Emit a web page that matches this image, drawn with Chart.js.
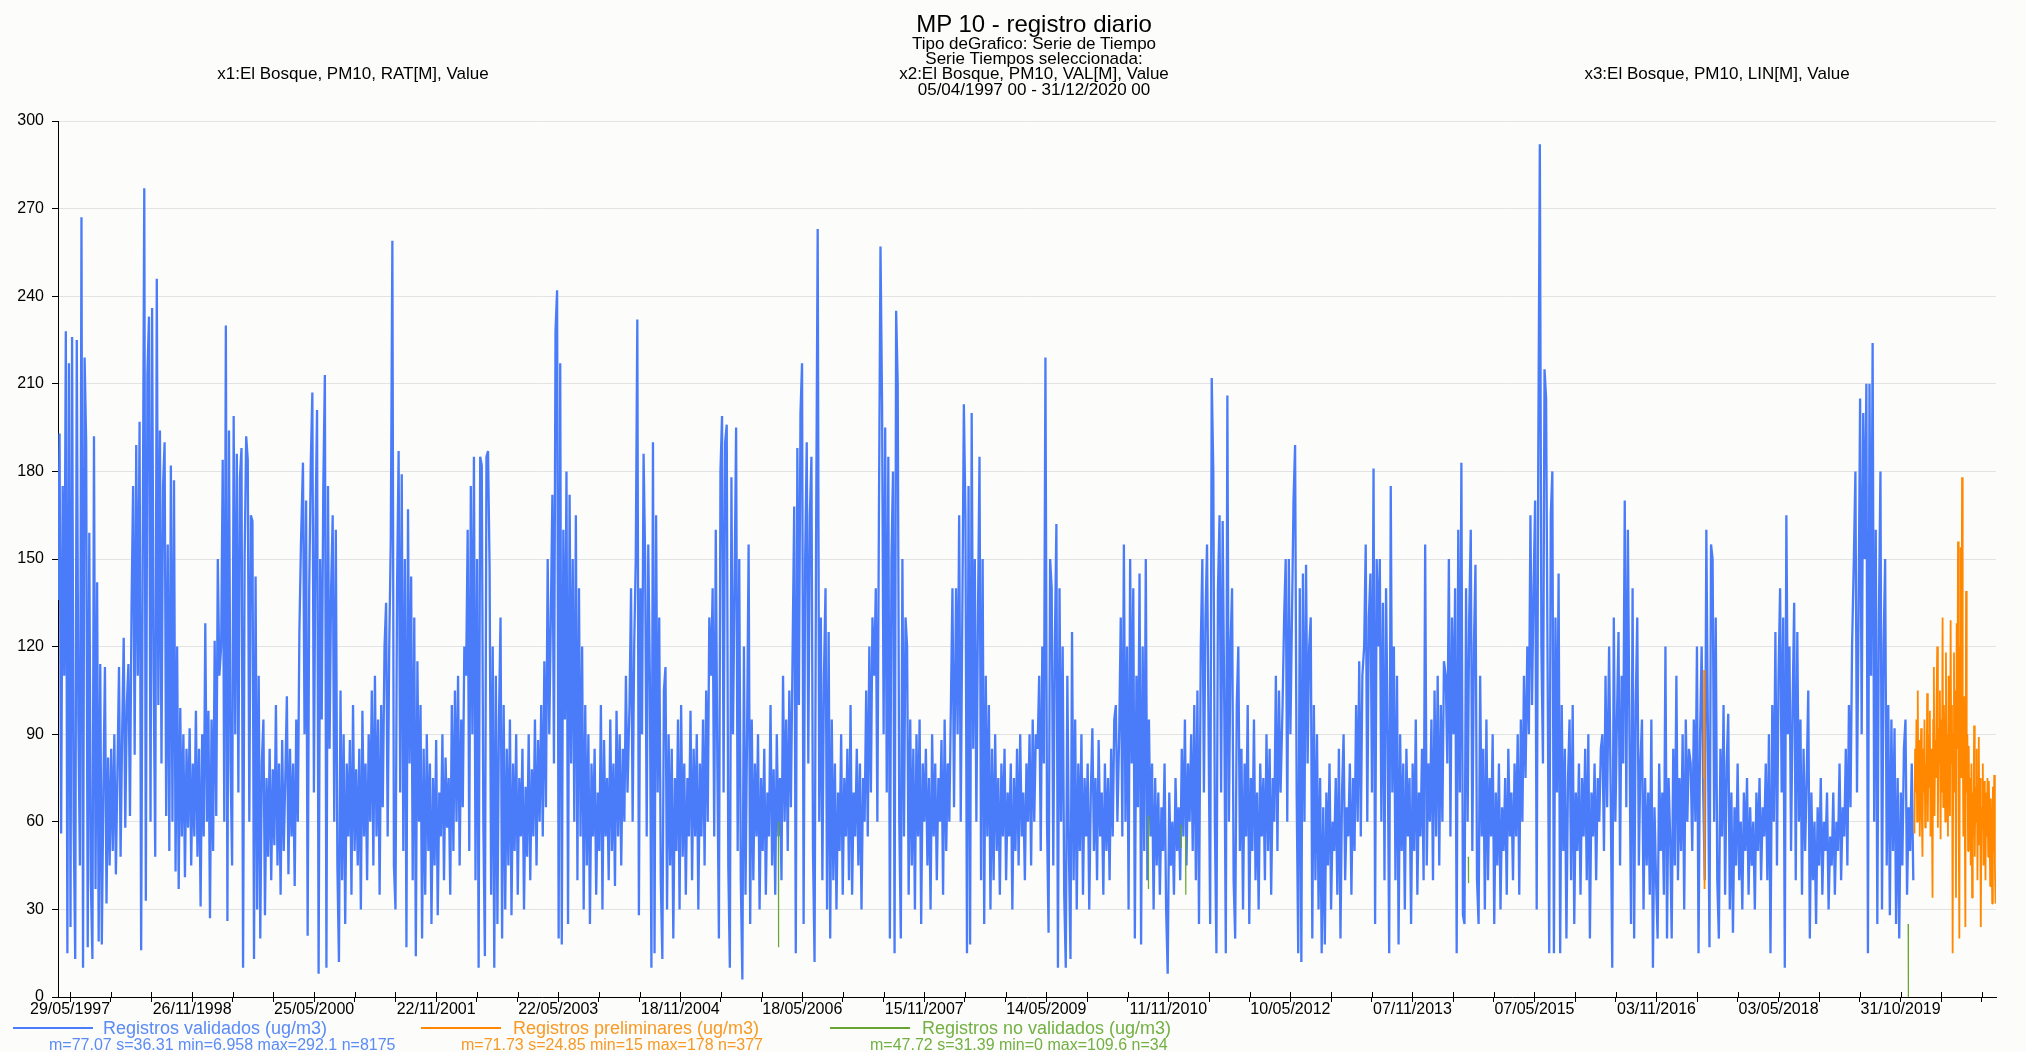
<!DOCTYPE html>
<html>
<head>
<meta charset="utf-8">
<script src="https://cdn.jsdelivr.net/npm/chart.js@4.4.1/dist/chart.umd.min.js"></script>
<style>
  body { margin: 0; background: #fcfcfa; font-family: "Liberation Sans", Arial, sans-serif; }
  #wrap { position: relative; width: 2026px; height: 1052px; overflow: hidden; }
  #chart { position: absolute; left: 0; top: 0; }
  .hd { position: absolute; width: 700px; text-align: center; color: #000; white-space: nowrap; font-size: 17px; line-height: 16px; }
  .lg { position: absolute; white-space: nowrap; }
  .lg .txt { font-size: 18px; line-height: 18px; }
  .lg .st { font-size: 16px; line-height: 16px; }
  .line { position: absolute; height: 2px; width: 80px; }
</style>
</head>
<body>
<div id="wrap">
  <canvas id="chart" width="2026" height="1052"></canvas>

  <div class="hd" style="left:684px; top:10px; font-size:24px; line-height:28px;">MP 10 - registro diario</div>
  <div class="hd" style="left:684px; top:36px;">Tipo deGrafico: Serie de Tiempo</div>
  <div class="hd" style="left:684px; top:51px;">Serie Tiempos seleccionada:</div>
  <div class="hd" style="left:684px; top:66px;">x2:El Bosque, PM10, VAL[M], Value</div>
  <div class="hd" style="left:684px; top:82px;">05/04/1997 00 - 31/12/2020 00</div>
  <div class="hd" style="left:3px; top:66px;">x1:El Bosque, PM10, RAT[M], Value</div>
  <div class="hd" style="left:1367px; top:66px;">x3:El Bosque, PM10, LIN[M], Value</div>

  <div id="legend"></div>
</div>

<script>
// daily series El Bosque, PM10
const seriesStart = '1997-04-05';
const seriesEnd = '2020-12-31';

const xTickLabels = ['29/05/1997', '26/11/1998', '25/05/2000', '22/11/2001', '22/05/2003', '18/11/2004',
  '18/05/2006', '15/11/2007', '14/05/2009', '11/11/2010', '10/05/2012', '07/11/2013',
  '07/05/2015', '03/11/2016', '03/05/2018', '31/10/2019'];
const yTicks = [0, 30, 60, 90, 120, 150, 180, 210, 240, 270, 300];

// Registros validados: one value per week, each array starts on 05/04 of its year
const v1997 = [136, 193, 56, 175, 110, 228, 15, 217, 24, 226, 60, 13, 225,
  95, 45, 267, 10, 219, 190, 17, 159, 40, 13, 192, 37, 142,
  19, 114, 18, 70, 113, 32, 82, 45, 85, 50, 90, 42, 78,
  113, 48, 90, 123, 58, 100, 114, 62, 133, 175, 83, 189, 110];
const v1998 = [197, 16, 150, 277, 33, 213, 233, 60, 236, 110, 48, 246, 100,
  194, 80, 175, 190, 62, 155, 50, 182, 60, 177, 43, 120, 37,
  99, 55, 90, 41, 85, 58, 92, 45, 80, 55, 98, 48, 85,
  31, 90, 55, 128, 60, 98, 27, 95, 50, 122, 62, 150, 110];
const v1999 = [120, 184, 60, 230, 26, 194, 80, 45, 199, 90, 186, 70, 178,
  188, 10, 150, 192, 184, 60, 165, 163, 13, 144, 30, 110, 20,
  80, 95, 28, 75, 48, 85, 40, 78, 52, 100, 45, 80, 35,
  88, 50, 75, 103, 42, 85, 55, 80, 38, 95, 60, 125, 155];
const v2000 = [183, 90, 170, 21, 140, 183, 207, 70, 160, 201, 8, 150, 95,
  175, 213, 10, 175, 85, 140, 165, 60, 160, 45, 12, 105, 40,
  90, 25, 80, 55, 88, 35, 100, 50, 78, 45, 85, 30, 98,
  55, 80, 40, 90, 60, 105, 45, 110, 55, 95, 35, 100, 65];
const v2001 = [120, 135, 55, 120, 157, 259, 45, 30, 140, 187, 70, 179, 50,
  150, 17, 167, 80, 144, 40, 130, 14, 115, 60, 100, 20, 85,
  35, 90, 50, 80, 25, 75, 45, 88, 28, 70, 55, 90, 40,
  82, 58, 75, 35, 100, 50, 105, 60, 110, 45, 95, 65, 120];
const v2002 = [110, 160, 50, 175, 90, 185, 40, 150, 10, 185, 182, 60, 14,
  185, 187, 147, 35, 120, 10, 110, 25, 95, 130, 20, 100, 30,
  85, 45, 95, 28, 80, 50, 90, 35, 75, 55, 85, 30, 72,
  48, 90, 40, 78, 55, 95, 45, 88, 60, 100, 55, 115, 65];
const v2003 = [150, 90, 130, 172, 80, 228, 242, 20, 217, 18, 160, 95, 180,
  25, 172, 80, 150, 60, 165, 40, 140, 55, 120, 30, 100, 45,
  90, 25, 80, 55, 85, 35, 70, 50, 100, 30, 88, 55, 75,
  40, 95, 50, 80, 38, 98, 55, 90, 45, 85, 60, 110, 70];
const v2004 = [100, 140, 60, 120, 150, 232, 28, 140, 90, 186, 150, 55, 155,
  110, 10, 190, 15, 165, 70, 130, 40, 13, 105, 113, 30, 90,
  45, 85, 20, 75, 50, 95, 30, 100, 48, 80, 35, 75, 55,
  98, 40, 85, 55, 90, 30, 80, 55, 95, 45, 105, 60, 130];
const v2005 = [110, 140, 55, 160, 80, 20, 180, 199, 70, 190, 196, 45, 10,
  178, 90, 140, 195, 50, 150, 40, 6, 120, 35, 90, 155, 25,
  95, 40, 80, 55, 90, 30, 75, 50, 85, 35, 70, 55, 100,
  45, 78, 35, 90, 55, 75, 40, 110, 60, 95, 50, 105, 65];
const v2006 = [120, 168, 15, 188, 100, 200, 217, 25, 150, 190, 80, 165, 185,
  50, 12, 160, 263, 60, 130, 40, 110, 140, 30, 125, 20, 95,
  40, 80, 30, 70, 50, 90, 35, 75, 55, 85, 40, 100, 35,
  70, 55, 85, 45, 80, 30, 75, 60, 105, 55, 120, 70, 130];
const v2007 = [110, 140, 60, 165, 257, 203, 90, 195, 70, 185, 20, 150, 180,
  15, 235, 210, 60, 20, 150, 55, 130, 120, 35, 95, 45, 85,
  30, 90, 55, 95, 25, 80, 60, 85, 45, 75, 30, 90, 55,
  80, 40, 75, 60, 88, 35, 95, 50, 80, 60, 100, 140, 65];
const v2008 = [140, 90, 165, 60, 130, 203, 165, 15, 175, 18, 200, 85, 150,
  60, 130, 185, 40, 150, 25, 110, 55, 100, 30, 85, 40, 90,
  50, 75, 35, 80, 55, 85, 40, 70, 55, 80, 30, 75, 50,
  85, 45, 90, 55, 70, 40, 80, 60, 90, 45, 95, 60, 90];
const v2009 = [85, 110, 50, 120, 80, 219, 60, 22, 150, 140, 45, 120, 162,
  10, 140, 60, 120, 35, 10, 110, 50, 13, 125, 40, 95, 30,
  80, 50, 90, 35, 75, 55, 80, 30, 70, 92, 50, 75, 40,
  88, 55, 70, 35, 80, 50, 75, 40, 85, 55, 95, 100, 60];
const v2010 = [90, 130, 55, 155, 60, 120, 30, 150, 80, 140, 20, 110, 65,
  145, 18, 120, 50, 150, 40, 95, 55, 80, 30, 75, 45, 70,
  35, 65, 50, 80, 30, 8, 70, 45, 60, 35, 75, 50, 65,
  40, 85, 55, 95, 45, 80, 60, 90, 50, 100, 40, 105, 25];
const v2011 = [120, 150, 70, 130, 155, 90, 25, 212, 180, 60, 15, 140, 165,
  70, 163, 100, 15, 206, 60, 120, 140, 40, 20, 100, 120, 50,
  85, 30, 80, 55, 100, 25, 75, 50, 95, 40, 70, 30, 80,
  55, 75, 40, 90, 50, 85, 35, 75, 60, 110, 50, 105, 70];
const v2012 = [100, 130, 150, 60, 150, 90, 130, 170, 189, 70, 15, 140, 12,
  145, 60, 148, 80, 120, 130, 20, 100, 40, 90, 30, 75, 15,
  65, 18, 70, 45, 80, 30, 60, 50, 75, 35, 85, 20, 70,
  90, 40, 65, 55, 80, 35, 75, 50, 100, 60, 115, 55, 110];
const v2013 = [120, 155, 60, 130, 145, 70, 181, 25, 150, 120, 150, 60, 135,
  40, 140, 90, 15, 175, 70, 120, 40, 110, 18, 90, 50, 80,
  30, 85, 55, 75, 25, 80, 50, 95, 35, 70, 55, 85, 40,
  155, 45, 80, 60, 95, 40, 105, 55, 110, 45, 100, 60, 115];
const v2014 = [110, 80, 150, 55, 130, 90, 140, 15, 160, 70, 183, 28, 25,
  140, 60, 130, 160, 50, 120, 148, 40, 25, 110, 55, 85, 30,
  95, 40, 75, 55, 90, 25, 70, 45, 80, 30, 65, 50, 75,
  35, 85, 55, 70, 40, 80, 55, 90, 35, 95, 60, 110, 75];
const v2015 = [120, 90, 165, 100, 140, 170, 30, 185, 292, 120, 80, 215, 205,
  110, 15, 165, 180, 15, 130, 70, 145, 15, 100, 50, 85, 20,
  75, 95, 40, 100, 25, 70, 50, 80, 35, 75, 55, 85, 40,
  90, 20, 70, 55, 80, 40, 75, 60, 85, 90, 50, 110, 65];
const v2016 = [120, 70, 10, 130, 60, 95, 125, 45, 110, 80, 170, 65, 160,
  90, 25, 140, 20, 100, 130, 45, 80, 95, 30, 75, 45, 70,
  35, 95, 10, 65, 40, 20, 80, 50, 70, 35, 120, 20, 75,
  55, 20, 85, 45, 110, 40, 75, 50, 90, 30, 95, 60, 85];
const v2017 = [80, 50, 95, 60, 120, 15, 90, 120, 70, 40, 160, 90, 17,
  155, 150, 60, 130, 40, 20, 85, 55, 100, 35, 80, 97, 30,
  70, 22, 65, 45, 80, 40, 60, 30, 70, 50, 75, 35, 65,
  45, 60, 30, 70, 50, 75, 40, 65, 55, 80, 40, 90, 15];
const v2018 = [100, 60, 125, 45, 110, 140, 70, 130, 10, 165, 90, 120, 50,
  100, 135, 40, 125, 60, 95, 35, 85, 50, 75, 105, 20, 70,
  40, 60, 25, 65, 45, 75, 35, 60, 50, 70, 30, 55, 45,
  70, 35, 60, 50, 80, 40, 65, 55, 85, 45, 100, 65, 120];
const v2019 = [150, 180, 70, 130, 205, 90, 200, 150, 210, 15, 210, 110, 224,
  60, 160, 25, 130, 180, 30, 120, 150, 45, 100, 28, 95, 50,
  92, 25, 75, 20, 70, 45, 85, 95, 35, 65, 50, 80, 40];

// Registros preliminares
const prelim2017Start = '2017-06-03';       // daily
const prelim2017 = [75, 112, 37, 110, 60];
const prelim2020Start = '2020-01-01';       // every 3 days
const prelim2020 = [56, 85, 70, 95, 60, 105, 65, 88, 55, 78, 92, 62, 48, 85, 70, 95, 58, 80, 66, 104,
  60, 90, 72, 98, 55, 85, 68, 34, 95, 113, 62, 88, 75, 100, 120, 58, 92, 80, 105, 54,
  95, 70, 130, 65, 100, 85, 60, 118, 75, 90, 55, 110, 95, 62, 129, 80, 100, 15, 90, 118,
  70, 105, 34, 128, 85, 156, 60, 20, 120, 154, 75, 178, 95, 55, 103, 65, 24, 139, 70, 90,
  50, 86, 60, 75, 45, 80, 34, 70, 55, 93, 48, 72, 60, 85, 40, 68, 89, 52, 75, 24,
  65, 58, 80, 45, 74, 62, 40, 70, 55, 75, 48, 74, 60, 38, 68, 55, 32, 72, 50, 76,
  45, 32];

// Registros no validados
const noValDates = ['2006-01-31', '2006-02-01', '2010-08-13', '2010-08-14', '2011-01-07', '2011-01-08',
  '2011-01-27', '2011-01-28', '2014-07-15', '2014-07-16', '2019-12-04', '2019-12-05'];
const noValValues = [60, 17, 62, 37, 59, 51, 55, 35, 48, 39, 25, 0];

const legendItems = [
  { name: 'Registros validados (ug/m3)', stats: 'm=77.07 s=36.31 min=6.958 max=292.1 n=8175', color: '#4a7cfa', text: '#5a8bf6' },
  { name: 'Registros preliminares (ug/m3)', stats: 'm=71.73 s=24.85 min=15 max=178 n=377', color: '#ff8800', text: '#f79a25' },
  { name: 'Registros no validados (ug/m3)', stats: 'm=47.72 s=31.39 min=0 max=109.6 n=34', color: '#66a630', text: '#72b043' }
];

const DAY = 86400000;
function dayOf(str) {
  const [y, m, d] = str.split('-').map(Number);
  return (Date.UTC(y, m - 1, d) - Date.UTC(1997, 3, 5)) / DAY;
}
function labelDay(lbl) {
  const [d, m, y] = lbl.split('/');
  return dayOf(y + '-' + m + '-' + d);
}

// build the point lists
const validYears = [[1997, v1997], [1998, v1998], [1999, v1999], [2000, v2000], [2001, v2001], [2002, v2002],
  [2003, v2003], [2004, v2004], [2005, v2005], [2006, v2006], [2007, v2007], [2008, v2008],
  [2009, v2009], [2010, v2010], [2011, v2011], [2012, v2012], [2013, v2013], [2014, v2014],
  [2015, v2015], [2016, v2016], [2017, v2017], [2018, v2018], [2019, v2019]];
const validPoints = [];
validYears.forEach(([yr, vals]) => {
  const d0 = dayOf(yr + '-04-05');
  vals.forEach((v, i) => validPoints.push({ x: d0 + 7 * i, y: v }));
});

const prelimPoints = [];
const p17 = dayOf(prelim2017Start);
prelim2017.forEach((v, i) => prelimPoints.push({ x: p17 + i, y: v }));
prelimPoints.push({ x: p17 + 10, y: null });
const p20 = dayOf(prelim2020Start);
prelim2020.forEach((v, i) => prelimPoints.push({ x: p20 + 3 * i, y: v }));

const noValPoints = [];
noValDates.forEach((s, i) => {
  const d = dayOf(s);
  if (noValPoints.length && d - noValPoints[noValPoints.length - 1].x > 1) {
    noValPoints.push({ x: d - 0.5, y: null });
  }
  noValPoints.push({ x: d, y: noValValues[i] });
});

// x ticks: labelled every 546 days, two minor ticks between
const labelledDays = xTickLabels.map(labelDay);
const xTickDays = [];
labelledDays.forEach(d => { xTickDays.push(d, d + 182, d + 364); });
const xMax = dayOf(seriesEnd);
const xTicks = xTickDays.filter(d => d <= xMax);

// tick marks that also reach into the plot, like the original
const crossTicks = {
  id: 'crossTicks',
  afterDraw(chart) {
    const { ctx, chartArea, scales } = chart;
    ctx.save();
    ctx.strokeStyle = '#000';
    ctx.lineWidth = 1;
    scales.x.ticks.forEach(t => {
      const px = Math.round(scales.x.getPixelForValue(t.value)) + 0.5;
      ctx.beginPath();
      ctx.moveTo(px, chartArea.bottom - 5);
      ctx.lineTo(px, chartArea.bottom);
      ctx.stroke();
    });
    ctx.restore();
  }
};

Chart.defaults.font.family = '"Liberation Sans", Arial, sans-serif';
Chart.defaults.color = '#000';

new Chart(document.getElementById('chart'), {
  type: 'line',
  data: {
    datasets: [
      { label: legendItems[0].name, data: validPoints, borderColor: legendItems[0].color, borderWidth: 2.3, order: 3 },
      { label: legendItems[1].name, data: prelimPoints, borderColor: legendItems[1].color, borderWidth: 1.8, order: 2 },
      { label: legendItems[2].name, data: noValPoints, borderColor: legendItems[2].color, borderWidth: 1.2, order: 1 }
    ]
  },
  options: {
    responsive: false,
    animation: false,
    devicePixelRatio: 1,
    parsing: false,
    spanGaps: false,
    elements: {
      line: { tension: 0, borderJoinStyle: 'bevel' },
      point: { radius: 0 }
    },
    layout: { padding: { top: 121, right: 30, bottom: 21, left: 0 } },
    plugins: {
      legend: { display: false },
      tooltip: { enabled: false }
    },
    scales: {
      x: {
        type: 'linear',
        min: 0,
        max: xMax,
        afterFit(scale) { scale.height = 34; },
        afterBuildTicks(scale) { scale.ticks = xTicks.map(v => ({ value: v })); },
        ticks: {
          autoSkip: false,
          maxRotation: 0,
          padding: -2,
          font: { size: 16 },
          callback(value) {
            const k = labelledDays.indexOf(value);
            return k >= 0 ? xTickLabels[k] : '';
          }
        },
        grid: { drawOnChartArea: false, tickLength: 5, tickColor: '#000' },
        border: { color: '#000' }
      },
      y: {
        min: 0,
        max: 300,
        afterFit(scale) { scale.width = 58; },
        afterBuildTicks(scale) { scale.ticks = yTicks.map(v => ({ value: v })); },
        ticks: { padding: 8, font: { size: 16 } },
        grid: { color: '#e3e3e3', tickColor: '#000', tickLength: 6 },
        border: { color: '#000' }
      }
    }
  },
  plugins: [crossTicks]
});

// legend below the plot
const legendPos = [
  { line: 13, text: 103, stats: 49 },
  { line: 421, text: 513, stats: 461 },
  { line: 830, text: 922, stats: 870 }
];
const legend = document.getElementById('legend');
legendItems.forEach((it, i) => {
  const p = legendPos[i];
  legend.insertAdjacentHTML('beforeend',
    '<div class="line" style="left:' + p.line + 'px; top:1027px; background:' + it.color + ';"></div>' +
    '<div class="lg" style="left:' + p.text + 'px; top:1019px; color:' + it.text + ';"><span class="txt">' + it.name + '</span></div>' +
    '<div class="lg" style="left:' + p.stats + 'px; top:1036px; color:' + it.text + ';"><span class="st">' + it.stats + '</span></div>');
});
</script>
</body>
</html>
